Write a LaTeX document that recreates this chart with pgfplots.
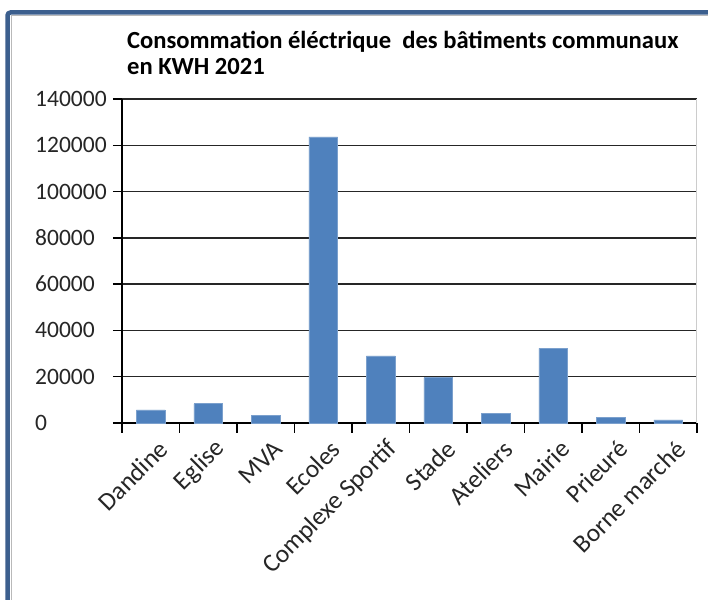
\documentclass[border=0pt]{standalone}
\usepackage{fontspec}
\setmainfont{Carlito}
\usepackage{pgfplots}
\pgfplotsset{compat=1.18}
\definecolor{barblue}{HTML}{4F81BD}
\definecolor{frameblue}{HTML}{3C5F8E}

\begin{document}
\begin{tikzpicture}
\path[use as bounding box] (0bp,0bp) rectangle (708bp,600bp);
\fill[white] (0bp,0bp) rectangle (708bp,600bp);
% cadre
\draw[gray!55, line width=1.5bp] (11.5bp,0bp) -- (11.5bp,584.5bp) -- (708bp,584.5bp);
\draw[frameblue, line width=4.5bp, rounded corners=3bp] (7.5bp,0bp) -- (7.5bp,587.5bp) -- (708bp,587.5bp);

\node[anchor=base west, align=left, inner sep=0pt,
      font=\bfseries\fontsize{24.6bp}{26bp}\selectfont] at (127bp,525bp)
  {Consommation éléctrique\ \ des bâtiments communaux\\en KWH 2021};

\begin{axis}[
  at={(122bp,177bp)}, anchor=south west,
  scale only axis, width=575bp, height=324bp,
  xmin=-0.5, xmax=9.5, ymin=0, ymax=140000,
  ytick={0,20000,...,140000},
  scaled y ticks=false,
  /pgf/number format/assume math mode=true,
  yticklabel style={/pgf/number format/fixed, /pgf/number format/1000 sep={},
                    anchor=west, inner sep=0pt, xshift=-78bp,
                    font=\fontsize{23.5bp}{23.5bp}\selectfont},
  xtick={0,...,9},
  xticklabels={Dandine,Eglise,MVA,Ecoles,Complexe Sportif,Stade,Ateliers,Mairie,Prieuré,Borne marché},
  xticklabel style={rotate=45, anchor=east, inner sep=2pt, yshift=-18bp, xshift=2bp,
                    font=\fontsize{25.5bp}{25.5bp}\selectfont},
  minor xtick={-0.5,0.5,...,9.5},
  major x tick style={draw=none},
  minor x tick style={black, line width=1.3bp},
  minor tick length=10bp,
  major tick length=9bp,
  tick align=outside,
  xtick pos=bottom, ytick pos=left,
  ticklabel style={text=black!85},
  tick style={black, line width=1.3bp},
  ymajorgrids,
  grid style={black!85, line width=1.3bp},
  axis lines*=left,
  axis line style={black, line width=1.3bp},
  clip=false,
]
\draw[gray!40, line width=1bp] (axis cs:9.5,0) -- (axis cs:9.5,140000);
\addplot[ybar, bar width=0.5, fill=barblue, draw=barblue!75!white, line width=0.6bp]
  coordinates {(0,5700) (1,8300) (2,3300) (3,123600) (4,29000) (5,19600) (6,4000) (7,32200) (8,2300) (9,1300)};
\end{axis}
\end{tikzpicture}
\end{document}
